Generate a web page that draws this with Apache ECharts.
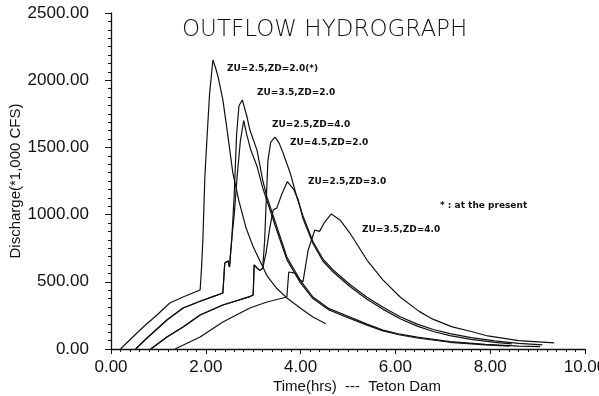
<!DOCTYPE html>
<html>
<head>
<meta charset="utf-8">
<script src="https://cdn.jsdelivr.net/npm/echarts@6/dist/echarts.min.js"></script>
<style>
  html, body { margin: 0; padding: 0; background: #fff; }
  #chart { width: 599px; height: 396px; }
</style>
</head>
<body>
<div id="chart"></div>
<script>
// hours / discharge (x1000 cfs)
const tA = [0.2, 0.46, 0.68, 0.97, 1.24, 1.52, 1.88, 1.91, 1.94, 1.98, 2.03, 2.08, 2.15, 2.2, 2.26, 2.36, 2.45, 2.57, 2.7, 2.85, 3.0, 3.15, 3.3, 3.5, 3.71, 4.05, 4.26, 4.53];
const qA = [0, 89, 164, 253, 342, 387, 439, 600, 830, 1280, 1600, 1900, 2150, 2100, 2024, 1853, 1629, 1310, 1100, 900, 760, 650, 540, 450, 380, 290, 238, 188];

const tB = [0.52, 0.76, 1.18, 1.52, 1.88, 2.15, 2.36, 2.4, 2.47, 2.5, 2.55, 2.6, 2.65, 2.7, 2.77, 2.87, 2.93, 3.08, 3.2, 3.29, 3.5, 3.71, 3.99, 4.26, 4.6, 5.04, 5.4, 5.74, 6.1, 6.46, 7.15, 7.9, 8.6, 9.05];
const qB = [0, 82, 216, 305, 355, 390, 417, 640, 655, 610, 830, 1150, 1600, 1810, 1853, 1726, 1629, 1480, 1257, 1131, 908, 685, 513, 387, 300, 238, 185, 141, 110, 89, 55, 35, 22, 18];

const tC = [0.52, 0.76, 1.18, 1.52, 1.88, 2.15, 2.36, 2.4, 2.47, 2.5, 2.55, 2.6, 2.66, 2.73, 2.8, 2.86, 2.95, 3.08, 3.2, 3.35, 3.5, 3.71, 3.99, 4.26, 4.6, 5.04, 5.4, 5.74, 6.1, 6.46, 7.15, 7.9, 8.4];
const qC = [0, 82, 216, 305, 355, 390, 417, 640, 655, 610, 830, 1000, 1280, 1550, 1700, 1600, 1480, 1360, 1200, 1040, 880, 665, 495, 375, 290, 228, 178, 135, 104, 82, 50, 30, 22];

const tD = [0.84, 1.18, 1.52, 1.88, 2.36, 2.93, 3.0, 3.02, 3.08, 3.14, 3.2, 3.24, 3.27, 3.31, 3.37, 3.46, 3.55, 3.63, 3.78, 3.92, 4.05, 4.26, 4.47, 4.68, 5.04, 5.4, 5.74, 6.1, 6.46, 6.8, 7.15, 7.6, 8.1, 8.6, 9.1];
const qD = [0, 89, 164, 253, 327, 390, 402, 625, 603, 585, 600, 800, 1060, 1400, 1540, 1577, 1530, 1458, 1310, 1131, 990, 800, 670, 590, 480, 385, 310, 240, 185, 145, 115, 85, 60, 42, 30];

const tE = [0.84, 1.18, 1.52, 1.88, 2.36, 2.93, 3.0, 3.02, 3.08, 3.14, 3.2, 3.27, 3.35, 3.42, 3.5, 3.6, 3.72, 3.85, 3.95, 4.05, 4.26, 4.47, 4.68, 5.04, 5.4, 5.74, 6.1, 6.46, 6.8, 7.15, 7.6, 8.1, 8.45];
const qE = [0, 89, 164, 253, 327, 390, 402, 625, 603, 585, 600, 714, 900, 1034, 1050, 1150, 1245, 1190, 1110, 970, 785, 655, 575, 465, 370, 295, 225, 170, 130, 100, 72, 50, 38];

const tF = [1.35, 1.88, 2.36, 2.93, 3.29, 3.71, 3.75, 3.88, 3.99, 4.05, 4.16, 4.3, 4.4, 4.5, 4.65, 4.83, 5.04, 5.4, 5.74, 6.1, 6.5, 6.8, 7.2, 7.6, 7.95, 8.6, 9.35];
const qF = [0, 89, 201, 305, 350, 387, 573, 565, 513, 500, 737, 885, 875, 940, 1005, 960, 863, 662, 513, 387, 280, 220, 165, 130, 97, 62, 45];

const curveNames = ['ZU=2.5,ZD=2.0(*)', 'ZU=3.5,ZD=2.0', 'ZU=2.5,ZD=4.0', 'ZU=4.5,ZD=2.0', 'ZU=2.5,ZD=3.0', 'ZU=3.5,ZD=4.0'];
const curveT = [tA, tB, tC, tD, tE, tF];
const curveQ = [qA, qB, qC, qD, qE, qF];

const xTicks = [0, 2, 4, 6, 8, 10];
const yTicks = [0, 500, 1000, 1500, 2000, 2500];

const chart = echarts.init(document.getElementById('chart'), null, { renderer: 'canvas' });

const axisFont = 'Liberation Sans';
const noteFont = 'bold 9px "DejaVu Sans"';

chart.setOption({
  animation: false,
  backgroundColor: '#fff',
  title: {
    text: 'OUTFLOW HYDROGRAPH',
    left: 177, top: 14,
    textStyle: { fontFamily: 'DejaVu Sans', fontSize: 23, fontWeight: 200, color: '#111' },
  },
  grid: { left: 111, right: 14, top: 13, bottom: 47, outerBoundsMode: 'none', containLabel: false },
  xAxis: {
    type: 'value',
    min: xTicks[0], max: xTicks[xTicks.length - 1], interval: 2,
    name: 'Time(hrs)  ---  Teton Dam',
    nameLocation: 'middle', nameGap: 30, nameMoveOverlap: false,
    nameTextStyle: { fontFamily: axisFont, fontSize: 15, color: '#111', padding: [0, 0, 0, 18] },
    axisLine: { lineStyle: { color: '#111', width: 1.3 } },
    axisTick: { inside: false, length: 5, lineStyle: { color: '#111' } },
    minorTick: { show: true, splitNumber: 10, length: 3, lineStyle: { color: '#111' } },
    splitLine: { show: false },
    axisLabel: { fontFamily: axisFont, fontSize: 17, color: '#111', margin: 10, formatter: v => v.toFixed(2) },
  },
  yAxis: {
    type: 'value',
    min: yTicks[0], max: yTicks[yTicks.length - 1], interval: 500,
    name: 'Discharge(*1,000 CFS)',
    nameLocation: 'middle', nameGap: 88, nameMoveOverlap: false,
    nameTextStyle: { fontFamily: axisFont, fontSize: 15, color: '#111' },
    axisLine: { show: true, lineStyle: { color: '#111', width: 1.3 } },
    axisTick: { show: true, inside: false, length: 6, lineStyle: { color: '#111' } },
    minorTick: { show: true, splitNumber: 8, length: 3, lineStyle: { color: '#111' } },
    splitLine: { show: false },
    axisLabel: { fontFamily: axisFont, fontSize: 17, color: '#111', margin: 22, formatter: v => v.toFixed(2) },
  },
  series: curveNames.map((name, i) => ({
    name, type: 'line',
    data: curveT[i].map((t, j) => [t, curveQ[i][j]]),
    showSymbol: false,
    lineStyle: { color: '#111', width: 1.2 },
  })),
  graphic: [
    { type: 'text', left: 227, top: 64, style: { text: curveNames[0], font: noteFont, fill: '#111' } },
    { type: 'text', left: 257, top: 88, style: { text: curveNames[1], font: noteFont, fill: '#111' } },
    { type: 'text', left: 272, top: 120, style: { text: curveNames[2], font: noteFont, fill: '#111' } },
    { type: 'text', left: 290, top: 138, style: { text: curveNames[3], font: noteFont, fill: '#111' } },
    { type: 'text', left: 308, top: 177, style: { text: curveNames[4], font: noteFont, fill: '#111' } },
    { type: 'text', left: 362, top: 225, style: { text: curveNames[5], font: noteFont, fill: '#111' } },
    { type: 'text', left: 440, top: 201, style: { text: '* : at the present', font: noteFont, fill: '#111' } },
  ],
});
</script>
</body>
</html>
